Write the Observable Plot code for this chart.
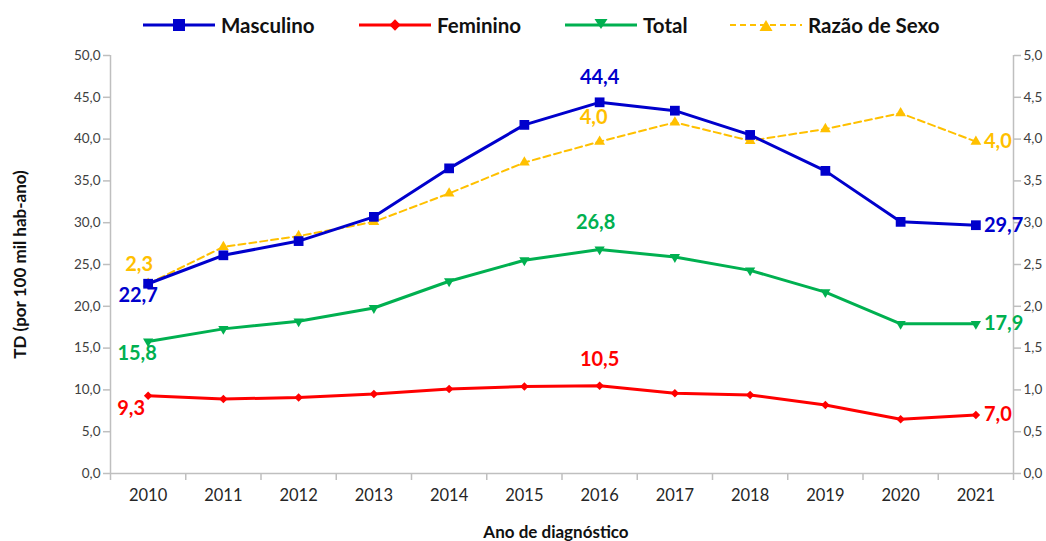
<!DOCTYPE html>
<html>
<head>
<meta charset="utf-8">
<script src="https://cdn.jsdelivr.net/npm/d3@7"></script>
<script src="https://cdn.jsdelivr.net/npm/@observablehq/plot@0.6"></script>
<style>
  html, body { margin: 0; padding: 0; background: #fff; }
  body { width: 1046px; height: 541px; overflow: hidden; font-family: Lato, "Open Sans", sans-serif; }
  #legend { height: 48px; position: relative; }
  .item { position: absolute; top: 10px; display: flex; align-items: center; height: 30px; }
  .item span { font-weight: bold; font-size: 20.5px; color: #111; margin-left: 6px; }
  #chart svg { display: block; }
</style>
</head>
<body>
<div id="legend"></div>
<div id="chart"></div>
<script>
// ---- data ----
const years = [2010, 2011, 2012, 2013, 2014, 2015, 2016, 2017, 2018, 2019, 2020, 2021];
const masculino = [22.7, 26.1, 27.8, 30.7, 36.5, 41.7, 44.4, 43.4, 40.5, 36.2, 30.1, 29.7];
const feminino  = [9.3, 8.9, 9.1, 9.5, 10.1, 10.4, 10.5, 9.6, 9.4, 8.2, 6.5, 7.0];
const total     = [15.8, 17.3, 18.2, 19.8, 23.0, 25.5, 26.8, 25.9, 24.3, 21.7, 17.9, 17.9];
const razao     = [2.27, 2.71, 2.84, 3.01, 3.35, 3.72, 3.97, 4.20, 3.98, 4.12, 4.31, 3.97];
const leftTicks  = [0, 5, 10, 15, 20, 25, 30, 35, 40, 45, 50];
const rightTicks = [0, 0.5, 1, 1.5, 2, 2.5, 3, 3.5, 4, 4.5, 5];
const labelYears = [2010, 2016, 2021];
const seriesNames = ["Masculino", "Feminino", "Total", "Razão de Sexo"];

// ---- helpers ----
const fmt = v => v.toFixed(1).replace(".", ",");
const RATIO = 10; // right axis (0–5) mapped onto left axis (0–50)
const toRows = (vals, k = 1) => years.map((year, i) => ({year, v: vals[i] * k, raw: vals[i]}));
const M = toRows(masculino), F = toRows(feminino), T = toRows(total), R = toRows(razao, RATIO);
const bounds = [...years.map(y => y - 0.5), years[years.length - 1] + 0.5];

const colors = {Masculino: "#0000CC", Feminino: "#FF0000", Total: "#00B050", "Razão de Sexo": "#FFC000"};

// ---- legend ----
const legendSpecs = [
  {name: "Masculino", left: 143, marker: '<rect x="30" y="8" width="12" height="12" fill="#0000CC"/>'},
  {name: "Feminino", left: 359, marker: '<rect x="32" y="10" width="8" height="8" fill="#FF0000" transform="rotate(45 36 14)"/>'},
  {name: "Total", left: 565, marker: '<path d="M29.5,8 L42.5,8 L36,18 Z" fill="#00B050"/>'},
  {name: "Razão de Sexo", left: 730, marker: '<path d="M29.5,20 L42.5,20 L36,9 Z" fill="#FFC000"/>'}
];
const legend = document.getElementById("legend");
for (const s of legendSpecs) {
  const c = colors[s.name];
  const dash = s.name === "Razão de Sexo" ? 'stroke-dasharray="6,4"' : "";
  const sw = s.name === "Razão de Sexo" ? 2 : 3;
  const div = document.createElement("div");
  div.className = "item";
  div.style.left = s.left + "px";
  div.innerHTML = `<svg width="72" height="28"><line x1="0" x2="72" y1="14" y2="14" stroke="${c}" stroke-width="${sw}" ${dash}/>${s.marker}</svg><span>${s.name}</span>`;
  legend.appendChild(div);
}

// ---- label offsets (style) ----
const lblFont = {fontSize: 20, fontWeight: "bold", fontFamily: "Lato, sans-serif"};
function labels(rows, color, off) {
  return labelYears.map(yr => {
    const r = rows.find(d => d.year === yr);
    const o = off[yr];
    return Plot.text([r], {x: "year", y: "v", text: d => fmt(d.raw), fill: color,
      dx: o[0], dy: o[1], textAnchor: o[2] || "middle", ...lblFont});
  });
}

const gray = "#BFBFBF";
const tickText = "#404040";

const plot = Plot.plot({
  width: 1046,
  height: 493,
  marginLeft: 110,
  marginRight: 33,
  marginTop: 7,
  marginBottom: 68,
  style: {fontFamily: "Lato, sans-serif", background: "#fff"},
  x: {type: "linear", domain: [bounds[0], bounds[bounds.length - 1]]},
  y: {domain: [0, 50]},
  marks: [
    // axis lines
    Plot.ruleY([0], {stroke: gray, strokeWidth: 1.5}),
    Plot.ruleX([bounds[0], bounds[bounds.length - 1]], {y1: 0, y2: 50, stroke: gray, strokeWidth: 1.5}),
    // x axis: separators and labels
    Plot.axisX({ticks: bounds, tickSize: 7, stroke: gray, strokeWidth: 1.5, tickFormat: () => "", label: null}),
    Plot.axisX({ticks: years, tickSize: 0, tickPadding: 16, tickFormat: d => String(d), fontSize: 16.5, fill: "#262626", label: null}),
    // left axis
    Plot.axisY({ticks: leftTicks, tickSize: 7, tickPadding: 3, stroke: gray, strokeWidth: 1.5,
      tickFormat: fmt, fontSize: 13.5, fill: tickText, label: null}),
    // right axis
    Plot.axisY({anchor: "right", ticks: rightTicks.map(v => v * RATIO), tickSize: 7, tickPadding: 3, stroke: gray, strokeWidth: 1.5,
      tickFormat: v => fmt(v / RATIO), fontSize: 13.5, fill: tickText, label: null}),
    // axis titles
    Plot.text(["TD (por 100 mil hab-ano)"], {frameAnchor: "left", dx: -90, rotate: -90, textAnchor: "middle", lineAnchor: "middle",
      fontSize: 17, fontWeight: "bold", fill: "#111"}),
    Plot.text(["Ano de diagnóstico"], {frameAnchor: "bottom", dy: 59, dx: -6, textAnchor: "middle", lineAnchor: "middle",
      fontSize: 17, fontWeight: "bold", fill: "#111"}),
    // series
    Plot.line(R, {x: "year", y: "v", stroke: colors["Razão de Sexo"], strokeWidth: 2, strokeDasharray: "7,4"}),
    Plot.dot(R, {x: "year", y: "v", symbol: "triangle", r: 4, fill: colors["Razão de Sexo"], stroke: "none"}),
    Plot.line(M, {x: "year", y: "v", stroke: colors.Masculino, strokeWidth: 3}),
    Plot.dot(M, {x: "year", y: "v", symbol: "square", r: 5.5, fill: colors.Masculino, stroke: "none"}),
    Plot.line(T, {x: "year", y: "v", stroke: colors.Total, strokeWidth: 3}),
    Plot.dot(T, {x: "year", y: "v", symbol: "triangle", rotate: 180, r: 3.8, fill: colors.Total, stroke: "none"}),
    Plot.line(F, {x: "year", y: "v", stroke: colors.Feminino, strokeWidth: 3}),
    Plot.dot(F, {x: "year", y: "v", symbol: "square", rotate: 45, r: 3.4, fill: colors.Feminino, stroke: "none"}),
    // data labels
    ...labels(R, colors["Razão de Sexo"], {2010: [-9, -19], 2016: [-6, -24], 2021: [8, 0, "start"]}),
    ...labels(M, colors.Masculino, {2010: [-10, 12], 2016: [0, -25], 2021: [8, 0, "start"]}),
    ...labels(T, colors.Total, {2010: [-11, 12], 2016: [-4, -27], 2021: [8, 0, "start"]}),
    ...labels(F, colors.Feminino, {2010: [-17, 13], 2016: [0, -26], 2021: [8, 0, "start"]})
  ]
});
document.getElementById("chart").appendChild(plot);
</script>
</body>
</html>
